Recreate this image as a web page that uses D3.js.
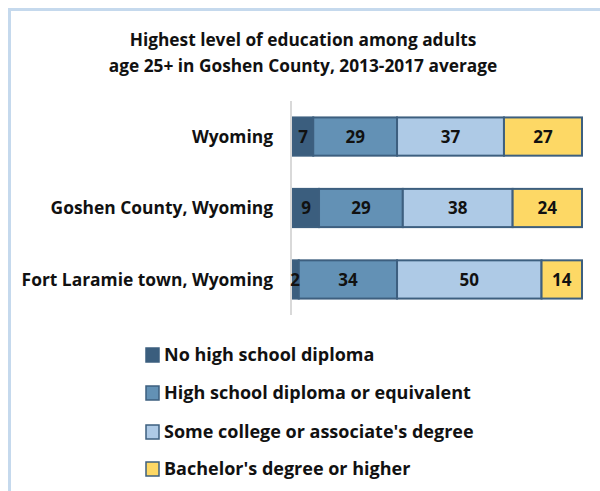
<!DOCTYPE html>
<html><head><meta charset="utf-8">
<script src="https://cdn.jsdelivr.net/npm/d3@7"></script>
<style>body{margin:0;background:#fff}svg{display:block}text{font-family:"Open Sans",sans-serif;font-weight:700;fill:#111}</style>
</head><body><svg id="c" width="600" height="491"></svg>
<script>
const categories = ["Wyoming", "Goshen County, Wyoming", "Fort Laramie town, Wyoming"];
const seriesNames = ["No high school diploma", "High school diploma or equivalent", "Some college or associate's degree", "Bachelor's degree or higher"];
const noDiploma = [7, 9, 2];
const highSchool = [29, 29, 34];
const someCollege = [37, 38, 50];
const bachelors = [27, 24, 14];
const titleLines = ["Highest level of education among adults", "age 25+ in Goshen County, 2013-2017 average"];
const colors = ["#3b5e7e", "#6391b5", "#aecae6", "#fdd865"];

const series = [noDiploma, highSchool, someCollege, bachelors];
const rows = categories.map((c, i) => {
  const o = {cat: c};
  seriesNames.forEach((s, j) => o[s] = series[j][i]);
  return o;
});
const stacked = d3.stack().keys(seriesNames)(rows);

const svg = d3.select("#c");
svg.append("path").attr("d", "M9.5,491 V9.5 H600").attr("fill", "none").attr("stroke", "#c5d9ed").attr("stroke-width", 3);

const title = svg.append("text").attr("text-anchor", "middle").style("font-size", "17.3px");
titleLines.forEach((t, i) => title.append("tspan").attr("x", 303).attr("y", 46 + i * 26).text(t));

const x = d3.scaleLinear().domain([0, 100]).range([293, 582]);
const y = d3.scaleBand().domain(categories).range([101, 315]).paddingInner(0.465).paddingOuter(0.23);

svg.append("line").attr("x1", 291).attr("x2", 291).attr("y1", 101).attr("y2", 315).attr("stroke", "#d9d9d9").attr("stroke-width", 2);

const g = svg.append("g");
stacked.forEach((layer, j) => {
  g.append("g").selectAll("rect").data(layer).join("rect")
    .attr("x", d => x(d[0])).attr("width", d => x(d[1]) - x(d[0]))
    .attr("y", d => y(d.data.cat)).attr("height", y.bandwidth())
    .attr("fill", colors[j]).attr("stroke", "#3d5f7f").attr("stroke-width", 2);
});
stacked.forEach((layer, j) => {
  g.append("g").selectAll("text").data(layer).join("text")
    .attr("x", d => { const w = x(d[1]) - x(d[0]); return w < 12 ? x(d[0]) + 2 : (x(d[0]) + x(d[1])) / 2; })
    .attr("y", d => y(d.data.cat) + y.bandwidth() / 2)
    .attr("dy", "0.36em").attr("text-anchor", "middle")
    .style("font-size", "17px")
    .text(d => d[1] - d[0]);
});

svg.append("g").selectAll("text").data(categories).join("text")
  .attr("x", 273).attr("y", d => y(d) + y.bandwidth() / 2).attr("dy", "0.36em")
  .attr("text-anchor", "end").style("font-size", "17.4px").text(d => d);

const legY = [355, 393, 432, 469];
const leg = svg.append("g").selectAll("g").data(seriesNames).join("g")
  .attr("transform", (d, i) => `translate(146,${legY[i]})`);
leg.append("rect").attr("x", 0).attr("y", -7).attr("width", 13).attr("height", 14)
  .attr("fill", (d, i) => colors[i]).attr("stroke", "#3d5f7f").attr("stroke-width", 1.5);
leg.append("text").attr("x", 18).attr("dy", "0.36em").style("font-size", "18px").text(d => d);
</script></body></html>
